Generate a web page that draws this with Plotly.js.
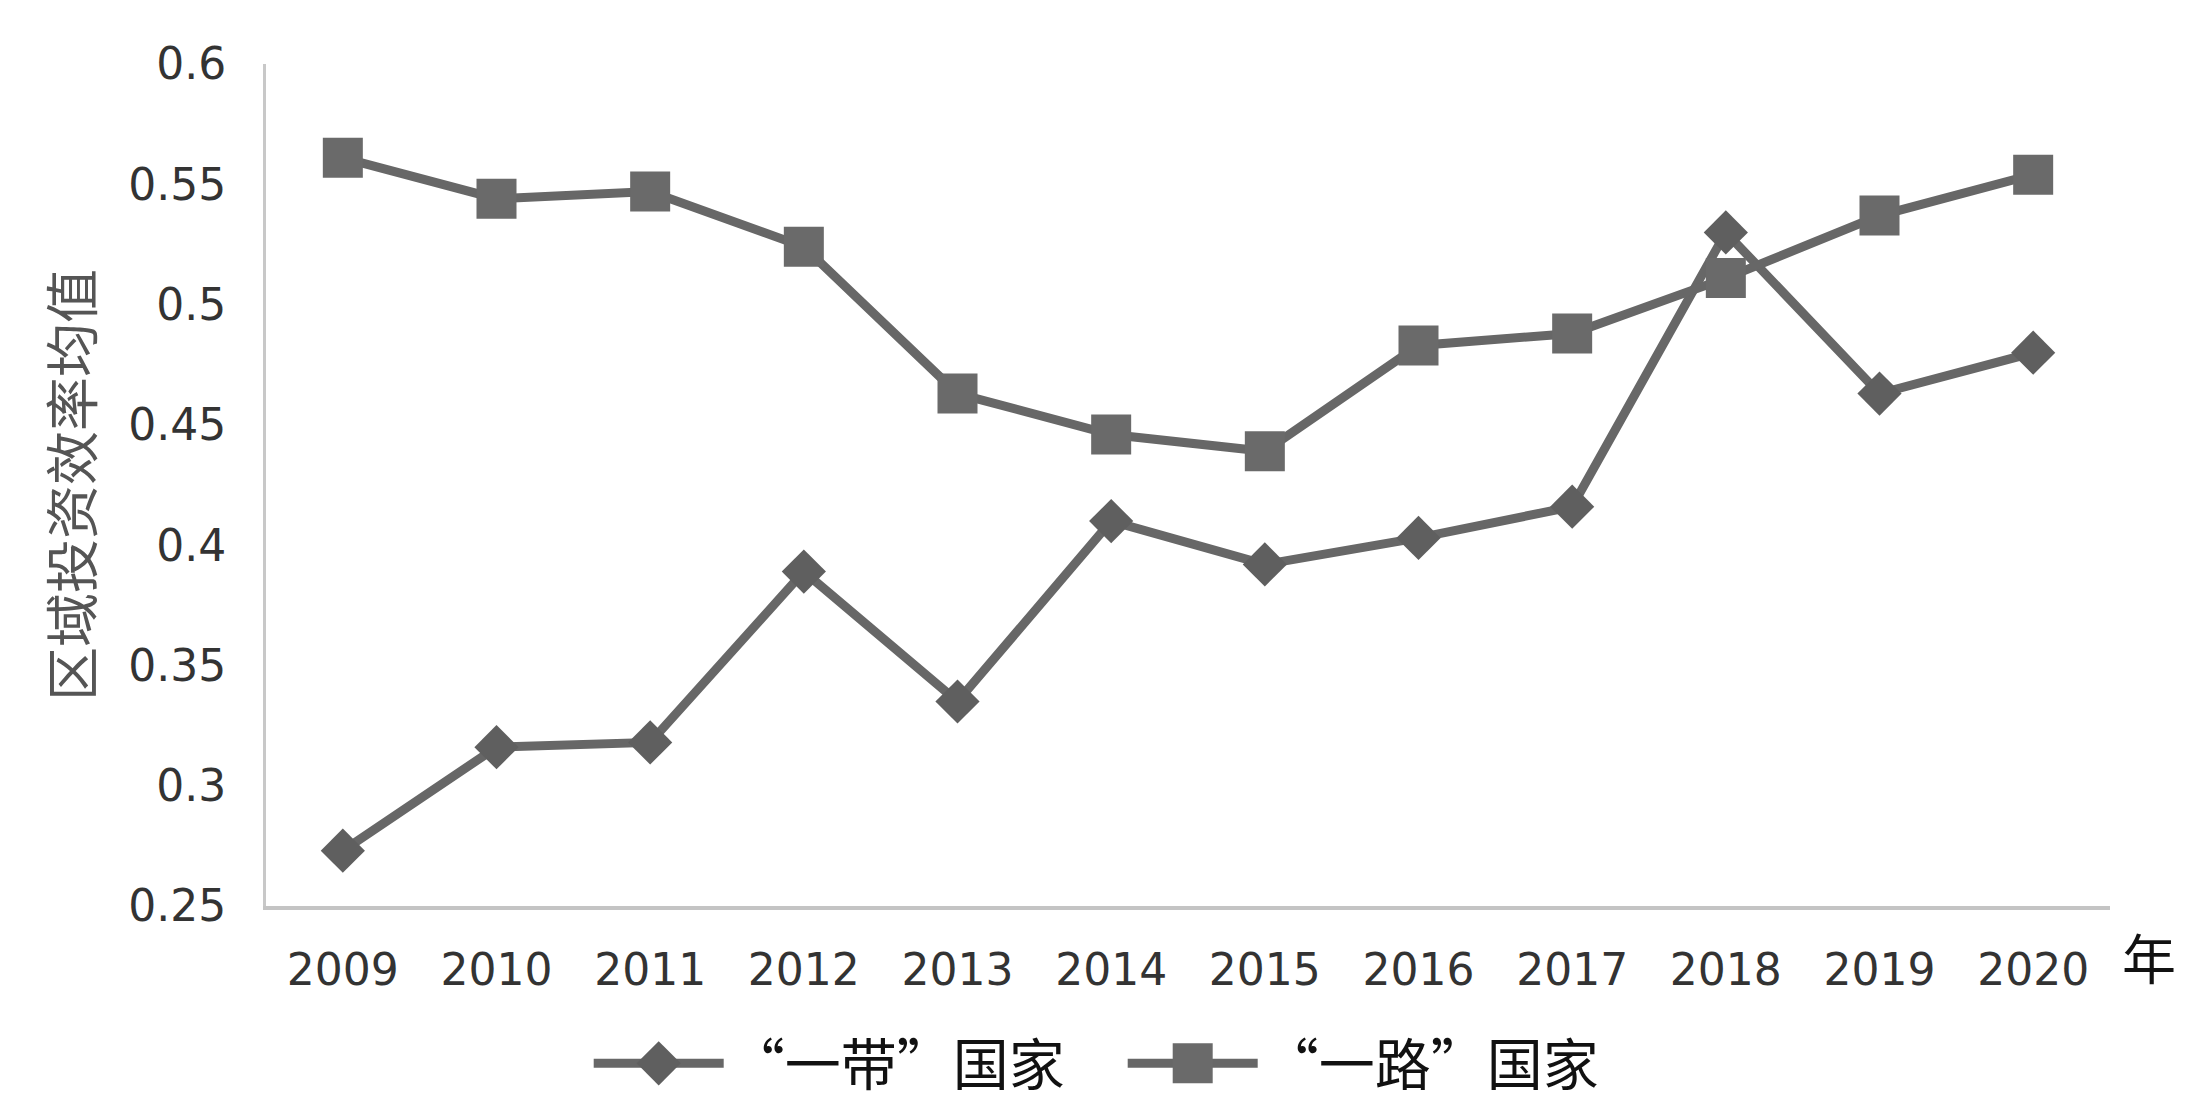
<!DOCTYPE html>
<html>
<head>
<meta charset="utf-8">
<script src="https://cdn.plot.ly/plotly-3.0.1.min.js"></script>
<style>
  html, body { margin: 0; padding: 0; background: #ffffff; }
  #chart { width: 2204px; height: 1118px; }
</style>
</head>
<body>
<div id="chart"></div>
<script>
const years = ['2009', '2010', '2011', '2012', '2013', '2014', '2015', '2016', '2017', '2018', '2019', '2020'];
const beltValues = [0.273, 0.316, 0.318, 0.389, 0.335, 0.410, 0.392, 0.403, 0.416, 0.530, 0.463, 0.480];
const roadValues = [0.561, 0.544, 0.547, 0.524, 0.463, 0.446, 0.439, 0.483, 0.488, 0.511, 0.537, 0.554];
const yTickVals = [0.25, 0.3, 0.35, 0.4, 0.45, 0.5, 0.55, 0.6];
const yTickText = ['0.25', '0.3', '0.35', '0.4', '0.45', '0.5', '0.55', '0.6'];

const grey = '#676767';
const markerSizes = [34, 40];

const traces = [
  {
    x: years,
    y: beltValues,
    name: '“一带”国家',
    mode: 'lines+markers',
    line: {color: grey, width: 9},
    marker: {symbol: 'diamond', size: markerSizes[0], color: '#5f5f5f'},
  },
  {
    x: years,
    y: roadValues,
    name: '“一路”国家',
    mode: 'lines+markers',
    line: {color: grey, width: 9},
    marker: {symbol: 'square', size: markerSizes[1], color: '#6a6a6a'},
  },
];

const layout = {
  width: 2204,
  height: 1118,
  margin: {l: 266, r: 94, t: 64, b: 197},
  paper_bgcolor: '#ffffff',
  plot_bgcolor: '#ffffff',
  font: {family: 'DejaVu Sans, sans-serif', color: '#333333'},
  xaxis: {
    type: 'category',
    range: [-0.5, 11.5],
    showgrid: false,
    zeroline: false,
    showline: true,
    linecolor: '#c4c4c4',
    linewidth: 4,
    ticks: '',
    ticklabelstandoff: 22,
    tickfont: {size: 44, color: '#333333'},
  },
  yaxis: {
    range: [0.25, 0.6],
    tickvals: yTickVals,
    ticktext: yTickText,
    showgrid: false,
    zeroline: false,
    showline: true,
    linecolor: '#c8c8c8',
    linewidth: 3,
    ticks: '',
    ticklabelstandoff: 28,
    tickfont: {size: 44, color: '#333333'},
    title: {
      text: '区域投资效率均值',
      standoff: 18,
      font: {family: 'Noto Sans CJK SC, sans-serif', size: 54, color: '#555555'},
    },
  },
  showlegend: true,
  legend: {
    orientation: 'h',
    x: 0.175,
    xanchor: 'left',
    y: -0.187,
    yanchor: 'middle',
    itemwidth: 130,
    entrywidth: 389,
    entrywidthmode: 'pixels',
    font: {family: 'Noto Sans CJK SC, serif', size: 56, color: '#111111'},
    bgcolor: 'rgba(0,0,0,0)',
  },
  annotations: [
    {
      text: '年',
      xref: 'paper',
      yref: 'paper',
      x: 1.021,
      y: -0.06,
      xanchor: 'center',
      yanchor: 'middle',
      showarrow: false,
      font: {family: 'Noto Sans CJK SC, serif', size: 54, color: '#111111'},
    },
  ],
};

Plotly.newPlot('chart', traces, layout, {displayModeBar: false, staticPlot: true}).then(gd => {
  // legend symbols are capped at 16px, scale them up to the plotted size
  gd.querySelectorAll('.legend .traces').forEach((item, i) => {
    const f = markerSizes[i] / 16;
    item.querySelectorAll('.scatterpts').forEach(p => {
      const t = p.getAttribute('transform') || '';
      p.setAttribute('transform', t + ' scale(' + f + ')');
    });
  });
});
</script>
</body>
</html>
